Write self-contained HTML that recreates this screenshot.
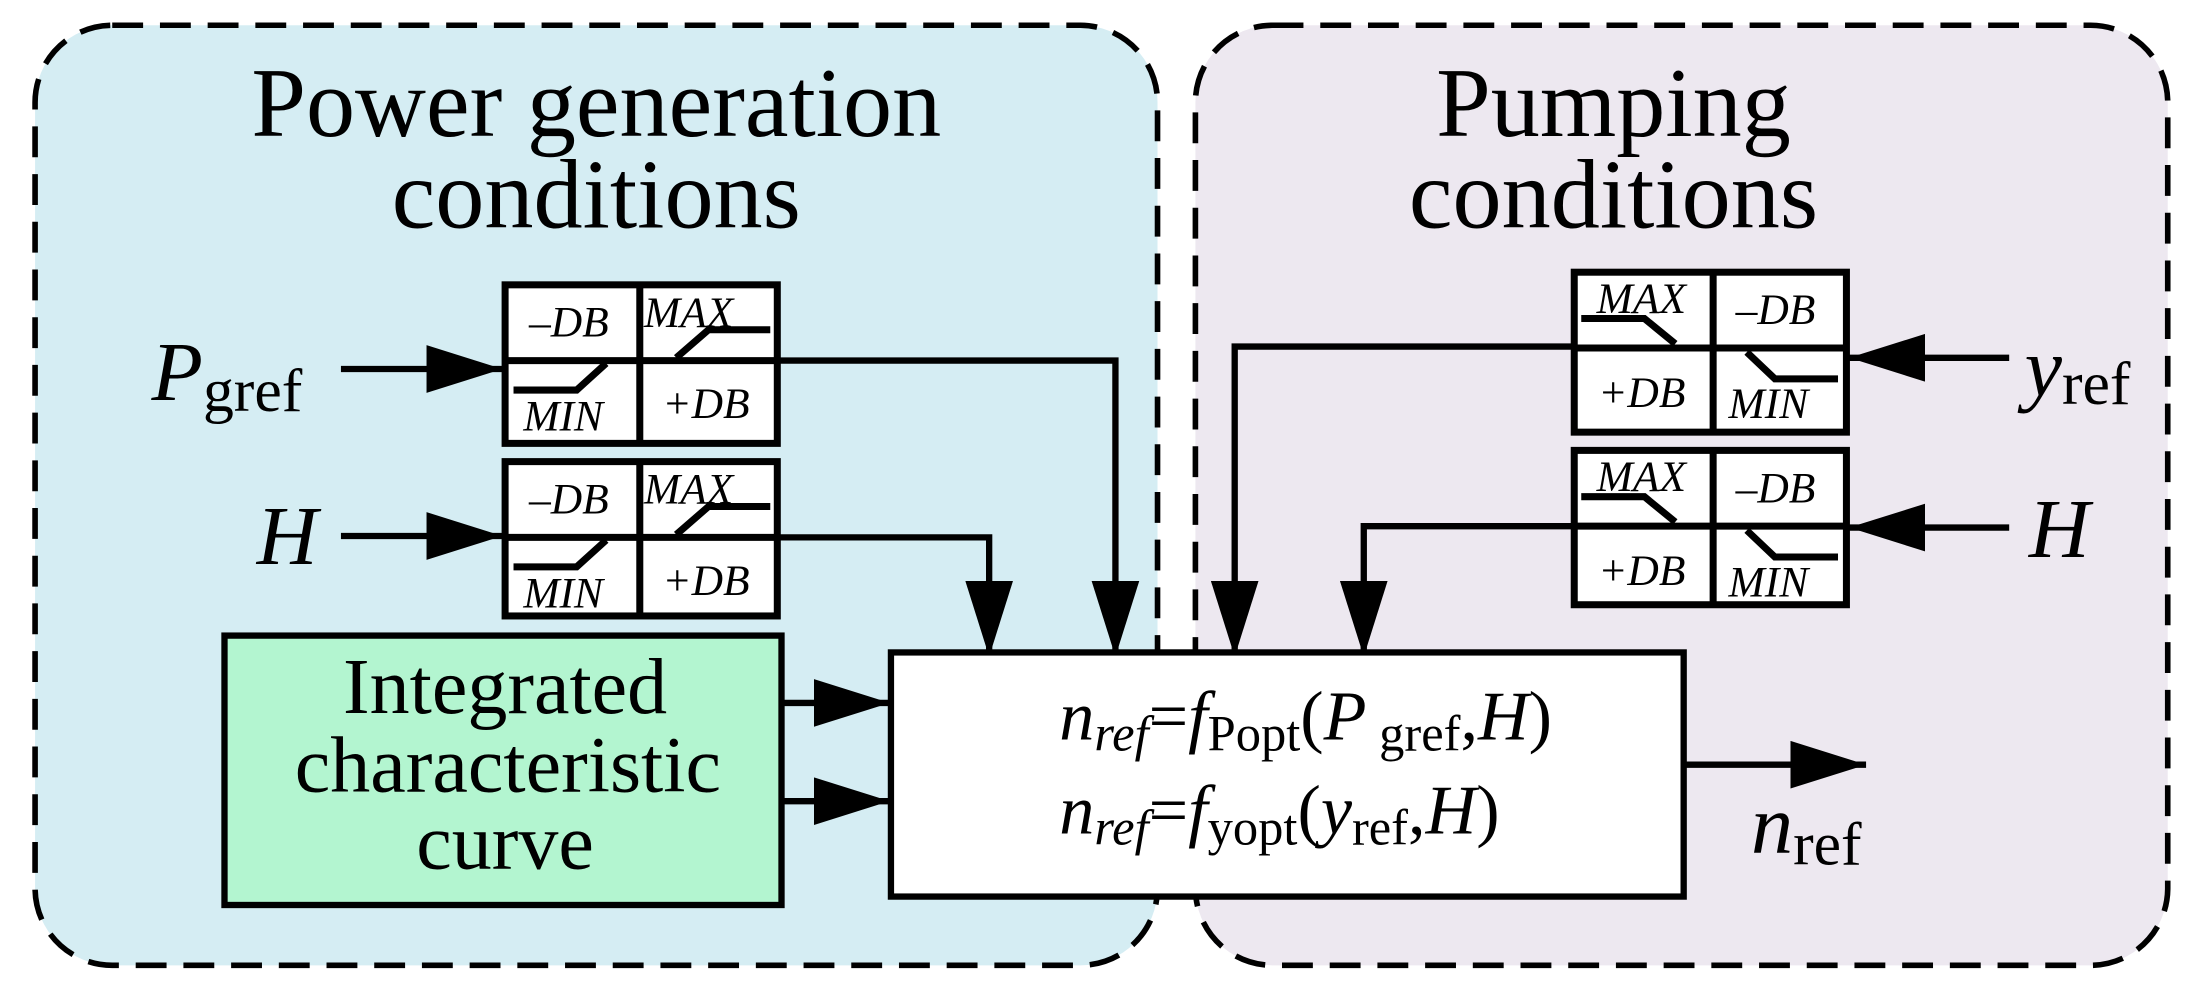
<!DOCTYPE html>
<html><head><style>html,body{margin:0;padding:0;background:#fff}svg{display:block}</style></head>
<body>
<svg width="2200" height="999" viewBox="0 0 1568 712" preserveAspectRatio="none" xmlns="http://www.w3.org/2000/svg" font-family="Liberation Serif, serif">
<defs>
<marker id="a" markerWidth="54" markerHeight="34" refX="54" refY="17" orient="auto" markerUnits="userSpaceOnUse"><path d="M0,0 L54,17 L0,34 Z" fill="#000"/></marker>
</defs>
<rect x="25" y="18" width="800" height="670" rx="55" fill="#d5edf3" stroke="#000" stroke-width="4" stroke-dasharray="22,12"/>
<rect x="852" y="18" width="693" height="670" rx="55" fill="#ede8f0" stroke="#000" stroke-width="4" stroke-dasharray="22,12"/>
<g font-size="70" text-anchor="middle">
<text x="425" y="97">Power generation</text><text x="425" y="162">conditions</text>
<text x="1150" y="97">Pumping</text><text x="1150" y="162">conditions</text>
</g>
<!-- connectors -->
<g stroke="#000" stroke-width="4.5" fill="none" marker-end="url(#a)">
<line x1="243" y1="263" x2="358" y2="263"/>
<line x1="243" y1="382" x2="358" y2="382"/>
<polyline points="555,257 795,257 795,468"/>
<polyline points="555,383 705,383 705,468"/>
<line x1="557" y1="501" x2="634" y2="501"/>
<line x1="557" y1="571" x2="634" y2="571"/>
<line x1="1200" y1="545" x2="1330" y2="545"/>
<line x1="1432" y1="255" x2="1318" y2="255"/>
<line x1="1432" y1="376" x2="1318" y2="376"/>
<polyline points="1122,247 880,247 880,468"/>
<polyline points="1122,375 972,375 972,468"/>
</g>
<g transform="translate(360,203)">
<rect x="0" y="0" width="194" height="113" fill="#fff" stroke="#000" stroke-width="5"/>
<line x1="96" y1="0" x2="96" y2="113" stroke="#000" stroke-width="5"/><line x1="0" y1="54" x2="194" y2="54" stroke="#000" stroke-width="5"/>
<polyline points="6,75 51,75 72,56" fill="none" stroke="#000" stroke-width="5"/>
<polyline points="122,52 145,32 189,32" fill="none" stroke="#000" stroke-width="5"/>
<g font-size="31" font-style="italic"><text x="17" y="37">–DB</text><text x="99" y="30">MAX</text><text x="13" y="104">MIN</text><text x="112" y="95">+DB</text></g>
</g>
<g transform="translate(360,329)">
<rect x="0" y="0" width="194" height="110" fill="#fff" stroke="#000" stroke-width="5"/>
<line x1="96" y1="0" x2="96" y2="110" stroke="#000" stroke-width="5"/><line x1="0" y1="54" x2="194" y2="54" stroke="#000" stroke-width="5"/>
<polyline points="6,75 51,75 72,56" fill="none" stroke="#000" stroke-width="5"/>
<polyline points="122,52 145,32 189,32" fill="none" stroke="#000" stroke-width="5"/>
<g font-size="31" font-style="italic"><text x="17" y="37">–DB</text><text x="99" y="30">MAX</text><text x="13" y="104">MIN</text><text x="112" y="95">+DB</text></g>
</g>
<g transform="translate(1122,194)">
<rect x="0" y="0" width="194" height="114" fill="#fff" stroke="#000" stroke-width="5"/>
<line x1="99" y1="0" x2="99" y2="114" stroke="#000" stroke-width="5"/><line x1="0" y1="54" x2="194" y2="54" stroke="#000" stroke-width="5"/>
<polyline points="5,33 50,33 72,51" fill="none" stroke="#000" stroke-width="5"/>
<polyline points="123,57 143,76 188,76" fill="none" stroke="#000" stroke-width="5"/>
<g font-size="31" font-style="italic"><text x="16" y="29">MAX</text><text x="115" y="37">–DB</text><text x="17" y="96">+DB</text><text x="110" y="104">MIN</text></g>
</g>
<g transform="translate(1122,321)">
<rect x="0" y="0" width="194" height="110" fill="#fff" stroke="#000" stroke-width="5"/>
<line x1="99" y1="0" x2="99" y2="110" stroke="#000" stroke-width="5"/><line x1="0" y1="54" x2="194" y2="54" stroke="#000" stroke-width="5"/>
<polyline points="5,33 50,33 72,51" fill="none" stroke="#000" stroke-width="5"/>
<polyline points="123,57 143,76 188,76" fill="none" stroke="#000" stroke-width="5"/>
<g font-size="31" font-style="italic"><text x="16" y="29">MAX</text><text x="115" y="37">–DB</text><text x="17" y="96">+DB</text><text x="110" y="104">MIN</text></g>
</g>
<rect x="160" y="453" width="397" height="192" fill="#b3f5d0" stroke="#000" stroke-width="4.5"/>
<g font-size="57" text-anchor="middle">
<text x="360" y="508">Integrated</text><text x="362" y="564">characteristic</text><text x="360" y="619">curve</text>
</g>
<rect x="635" y="465" width="565" height="174" fill="#fff" stroke="#000" stroke-width="4.5"/>
<g font-size="50">
<text x="755" y="527"><tspan font-style="italic">n</tspan><tspan font-style="italic" font-size="36" dy="8">ref</tspan><tspan dy="-8">=</tspan><tspan font-style="italic">f</tspan><tspan font-size="36" dy="8">Popt</tspan><tspan dy="-8">(</tspan><tspan font-style="italic">P</tspan><tspan font-size="36" dy="8"> gref</tspan><tspan dy="-8">,</tspan><tspan font-style="italic">H</tspan>)</text>
<text x="755" y="594"><tspan font-style="italic">n</tspan><tspan font-style="italic" font-size="36" dy="8">ref</tspan><tspan dy="-8">=</tspan><tspan font-style="italic">f</tspan><tspan font-size="36" dy="8">yopt</tspan><tspan dy="-8">(</tspan><tspan font-style="italic">y</tspan><tspan font-size="36" dy="8">ref</tspan><tspan dy="-8">,</tspan><tspan font-style="italic">H</tspan>)</text>
</g>
<g font-size="60">
<text x="108" y="285"><tspan font-style="italic">P</tspan><tspan font-size="44" dy="8">gref</tspan></text>
<text x="183" y="402" font-style="italic">H</text>
<text x="1443" y="282"><tspan font-style="italic">y</tspan><tspan font-size="44" dy="6">ref</tspan></text>
<text x="1446" y="397" font-style="italic">H</text>
<text x="1248" y="608"><tspan font-style="italic">n</tspan><tspan font-size="44" dy="8">ref</tspan></text>
</g>
</svg>
</body></html>
